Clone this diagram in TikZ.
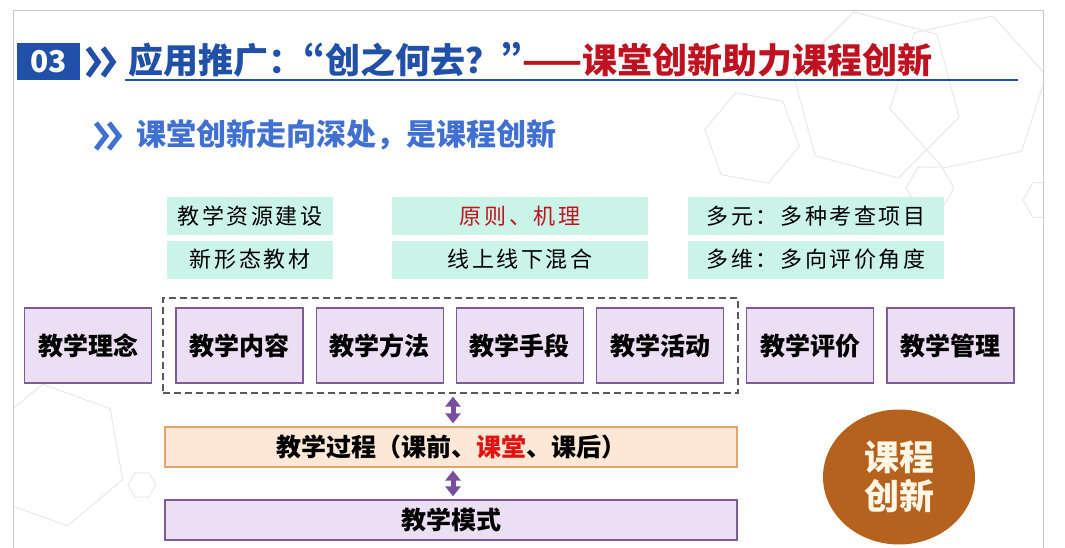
\documentclass[tikz,border=0pt]{standalone}
\usepackage{fontspec}
\setmainfont{Noto Sans CJK SC}
\usepackage{xcolor}
\usetikzlibrary{arrows.meta,positioning,shapes.geometric}

\definecolor{titleblue}{HTML}{2150A8}
\definecolor{titlered}{HTML}{BE1220}
\definecolor{subblue}{HTML}{3F70D2}
\definecolor{tagfill}{HTML}{CBF4E8}
\definecolor{itemfill}{HTML}{ECDFF3}
\definecolor{itemline}{HTML}{7C5C93}
\definecolor{procfill}{HTML}{FDE8D6}
\definecolor{procline}{HTML}{E0A46C}
\definecolor{linkcol}{HTML}{7A4E9E}
\definecolor{roundfill}{HTML}{B4621D}
\definecolor{roundtext}{HTML}{FFF6E6}
\definecolor{hotred}{HTML}{E01212}

\newcommand{\narrowq}[1]{{\addfontfeature{CharacterWidth=Proportional}#1}}

\begin{document}
\begin{tikzpicture}[x=1pt,y=-1pt,>={Triangle[length=10pt,width=15pt]},
	item/.style={draw=itemline,line width=1.2pt,fill=itemfill,minimum width=127pt,minimum height=75pt,inner sep=0pt,font=\bfseries\fontsize{25}{25}\selectfont},
	tag/.style={fill=tagfill,minimum height=38pt,inner sep=0pt,font=\addfontfeature{LetterSpace=12}\fontsize{22}{22}\selectfont},
	bar/.style={line width=1.2pt,minimum width=572pt,minimum height=40pt,inner sep=0pt,font=\bfseries\fontsize{25}{25}\selectfont},
	link/.style={<->,line width=5pt,draw=linkcol,shorten >=3pt,shorten <=3pt},
	hexline/.style={draw=gray!18,line width=1pt}]
		
		\useasboundingbox (0,0) rectangle (1065,548);
		
		% Slide frame and background hexagons
		\begin{scope}
			\clip (13,10) rectangle (1043,548);
			\foreach \hx/\hy/\hr/\ha in {752/138/48/10, 876/95/86/15, 968/92/80/-12, 930/188/24/0, 1043/200/20/0, 55/455/72/20, 142/485/14/0}
				\draw[hexline] (\hx,\hy) +(\ha:\hr) -- +(\ha+60:\hr) -- +(\ha+120:\hr) -- +(\ha+180:\hr) -- +(\ha+240:\hr) -- +(\ha+300:\hr) -- cycle;
		\end{scope}
		\draw[gray!45] (13,548) -- (13,10) -- (1043,10) -- (1043,548);
		
		% Heading
		\node[fill=titleblue,text=white,minimum width=63pt,minimum height=37pt,inner sep=0pt,font=\bfseries\fontsize{30}{30}\selectfont] (num) at (48.5,61.5) {03};
		\draw[titleblue,line width=5.5pt] (88,48) -- (98,62) -- (88,76) (103,48) -- (113,62) -- (103,76);
		\node[anchor=west,inner sep=0pt,font=\bfseries\fontsize{35}{35}\selectfont] (title) at (128,60) {\textcolor{titleblue}{应用推广：\narrowq{“}创之何去？\narrowq{”}}\textcolor{titlered}{——课堂创新助力课程创新}};
		\draw[titleblue,line width=1.5pt] (125,80) -- (1018,80);
		
		\draw[subblue,line width=5pt] (96,123) -- (106,136) -- (96,149) (109,123) -- (119,136) -- (109,149);
		\node[anchor=west,inner sep=0pt,text=subblue,font=\bfseries\fontsize{30}{30}\selectfont] (sub) at (136,135) {课堂创新走向深处，是课程创新};
		
		% Supporting tags
		\node[tag,minimum width=166pt] (res) at (250,216) {教学资源建设};
		\node[tag,minimum width=166pt] (book) at (250,259.5) {新形态教材};
		\node[tag,minimum width=256pt,text=titlered] (rule) at (520,216) {原则、机理};
		\node[tag,minimum width=256pt] (blend) at (520,259.5) {线上线下混合};
		\node[tag,minimum width=256pt] (multi) at (816,216) {多元：多种考查项目};
		\node[tag,minimum width=256pt] (dims) at (816,259.5) {多维：多向评价角度};
		
		% Teaching elements
		\node[draw=gray!70!black,dash pattern=on 7pt off 4pt,line width=1.2pt,minimum width=575pt,minimum height=95pt] (core) at (450.5,345.5) {};
		\node[item] (idea) at (88,345.5) {教学理念};
		\node[item] (content) at (239.5,345.5) {教学内容};
		\node[item,right=12pt of content] (method) {教学方法};
		\node[item,right=12pt of method] (means) {教学手段};
		\node[item,right=12pt of means] (act) {教学活动};
		\node[item,right=22pt of act] (eval) {教学评价};
		\node[item,right=12pt of eval] (manage) {教学管理};
		
		% Process and mode
		\node[bar,draw=procline,fill=procfill] (proc) at (451,447) {教学过程（课前、\textcolor{hotred}{课堂}、课后）};
		\node[bar,draw=itemline,fill=itemfill] (mode) at (451,520) {教学模式};
		\draw[link] (core.south -| 453,0) -- (proc.north -| 453,0);
		\draw[link] (proc.south -| 453,0) -- (mode.north -| 453,0);
		
		% Course innovation
		\node[ellipse,fill=roundfill,minimum width=152pt,minimum height=135pt,align=center,text=roundtext,font=\bfseries\fontsize{35}{39}\selectfont] (course) at (899,477) {课程\\创新};
		
	\end{tikzpicture}
\end{document}
